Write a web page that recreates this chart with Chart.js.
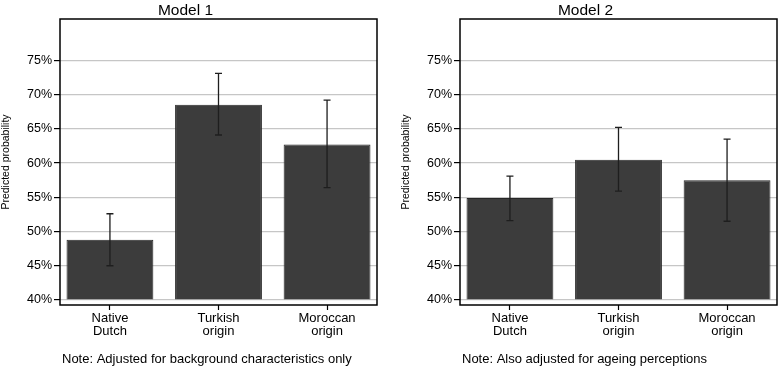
<!DOCTYPE html>
<html>
<head>
  <title>Predicted probability by origin</title>
  <script src="https://cdn.jsdelivr.net/npm/chart.js"></script>
  <style>
    body { margin: 0; background: #fff; width: 778px; height: 366px; overflow: hidden; position: relative; }
    .panel { position: absolute; top: 0; width: 390px; height: 366px; }
  </style>
</head>
<body>
  <div class="panel" style="left:0"><canvas id="model1Chart" width="390" height="366"></canvas></div>
  <div class="panel" style="left:400px"><canvas id="model2Chart" width="390" height="366"></canvas></div>

  <script>
    // data
    const categories = [['Native', 'Dutch'], ['Turkish', 'origin'], ['Moroccan', 'origin']];
    const yTicks = [40, 45, 50, 55, 60, 65, 70, 75];

    const model1 = [48.8, 68.5, 62.7];
    const model1Lo = [45.0, 64.1, 56.4];
    const model1Hi = [52.6, 73.1, 69.2];

    const model2 = [54.9, 60.5, 57.5];
    const model2Lo = [51.6, 55.9, 51.5];
    const model2Hi = [58.1, 65.2, 63.5];

    Chart.defaults.font.family = "'Liberation Sans', Arial, sans-serif";
    Chart.defaults.color = '#000';

    // error bars, title, note and plot frame
    const extras = {
      id: 'extras',
      afterDatasetsDraw(chart, args, opts) {
        const ctx = chart.ctx;
        const y = chart.scales.y;
        const meta = chart.getDatasetMeta(0);
        ctx.save();
        ctx.strokeStyle = '#1e1e1e';
        ctx.lineWidth = 1.3;
        meta.data.forEach((bar, i) => {
          const top = y.getPixelForValue(opts.hi[i]);
          const bot = y.getPixelForValue(opts.lo[i]);
          ctx.beginPath();
          ctx.moveTo(bar.x, top);
          ctx.lineTo(bar.x, bot);
          ctx.moveTo(bar.x - 3.5, top);
          ctx.lineTo(bar.x + 3.5, top);
          ctx.moveTo(bar.x - 3.5, bot);
          ctx.lineTo(bar.x + 3.5, bot);
          ctx.stroke();
        });
        const a = chart.chartArea;
        ctx.strokeStyle = '#000';
        ctx.lineWidth = 1.5;
        ctx.strokeRect(a.left, a.top, a.right - a.left, a.bottom - a.top);
        ctx.restore();
      },
      afterDraw(chart, args, opts) {
        const ctx = chart.ctx;
        ctx.save();
        ctx.fillStyle = '#000';
        ctx.font = "15.5px 'Liberation Sans', Arial, sans-serif";
        ctx.textAlign = 'center';
        ctx.textBaseline = 'alphabetic';
        ctx.fillText(opts.title, 185.5, 14.5);
        ctx.font = "13px 'Liberation Sans', Arial, sans-serif";
        ctx.textAlign = 'left';
        ctx.textBaseline = 'middle';
        ctx.fillText(opts.note, 62, 359);
        ctx.restore();
      }
    };

    function makeChart(id, values, lo, hi, title, note) {
      const ctx = document.getElementById(id).getContext('2d');
      return new Chart(ctx, {
        type: 'bar',
        data: {
          datasets: [{
            data: values.map((v, i) => ({ x: i, y: v })),
            base: 40,
            backgroundColor: '#3c3c3c',
            borderColor: '#262626',
            borderWidth: 1,
            barPercentage: 0.8,
            categoryPercentage: 1
          }]
        },
        options: {
          responsive: false,
          animation: false,
          devicePixelRatio: 1,
          layout: { padding: { top: 19, right: 13, left: 0, bottom: 0 } },
          plugins: {
            legend: { display: false },
            tooltip: { enabled: false },
            extras: { lo: lo, hi: hi, title: title, note: note }
          },
          scales: {
            x: {
              type: 'linear',
              offset: false,
              min: -0.46,
              max: 2.46,
              afterBuildTicks: s => { s.ticks = categories.map((c, i) => ({ value: i })); },
              afterFit: s => { s.height = 61; },
              border: { display: false },
              grid: { offset: false, drawOnChartArea: false, drawTicks: true, tickLength: 5, tickColor: '#000', tickWidth: 1.2 },
              ticks: {
                font: { size: 13, lineHeight: 1.0 },
                color: '#000',
                padding: 2,
                maxRotation: 0,
                autoSkip: false,
                callback: v => categories[v]
              }
            },
            y: {
              min: 39.27,
              max: 81.04,
              afterBuildTicks: s => { s.ticks = yTicks.map(v => ({ value: v })); },
              afterFit: s => { s.width = 60; },
              border: { display: false },
              grid: { color: '#c6c6c6', lineWidth: 1.2, drawTicks: true, tickLength: 6, tickColor: '#000', tickWidth: 1.2 },
              ticks: {
                font: { size: 12.5 },
                color: '#000',
                padding: 2,
                callback: v => v + '%'
              },
              title: {
                display: true,
                text: 'Predicted probability',
                font: { size: 10.5 },
                color: '#000',
                padding: 0
              }
            }
          }
        },
        plugins: [extras]
      });
    }

    makeChart('model1Chart', model1, model1Lo, model1Hi, 'Model 1', 'Note: Adjusted for background characteristics only');
    makeChart('model2Chart', model2, model2Lo, model2Hi, 'Model 2', 'Note: Also adjusted for ageing perceptions');
  </script>
</body>
</html>
